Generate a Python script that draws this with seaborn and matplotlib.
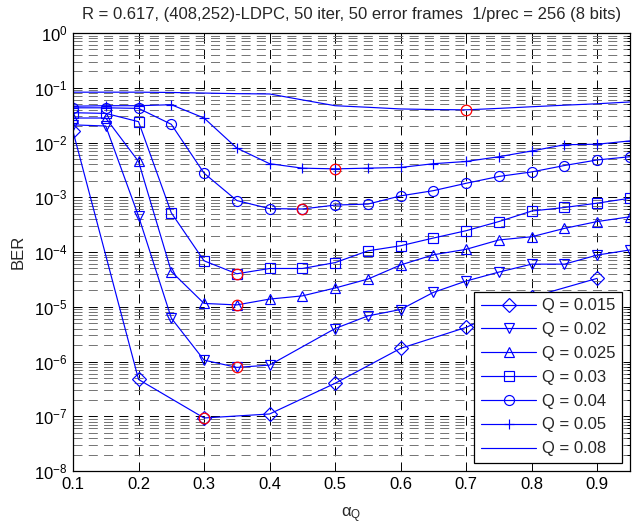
import numpy as np
import matplotlib
matplotlib.use("Agg")
import matplotlib.pyplot as plt
import seaborn as sns
from matplotlib.ticker import LogLocator, FixedLocator, NullLocator, LogFormatterSciNotation

# quantizer clipping factor alpha_Q (simulated grid points)
alpha_fine = [0.10, 0.15, 0.20, 0.25, 0.30, 0.35, 0.40, 0.45, 0.50,
              0.55, 0.60, 0.65, 0.70, 0.75, 0.80, 0.85, 0.90, 0.95]
alpha_coarse = [0.1, 0.2, 0.3, 0.4, 0.5, 0.6, 0.7, 0.8, 0.9]
alpha_q002 = [0.10, 0.15, 0.20, 0.25, 0.30, 0.35, 0.40, 0.50, 0.55,
              0.60, 0.65, 0.70, 0.75, 0.80, 0.85, 0.90, 0.95]

# bit error rates per quantization step Q
ber_q0015 = [1.6e-2, 4.7e-7, 9.3e-8, 1.1e-7, 4.0e-7, 1.74e-6, 4.2e-6, 1.5e-5, 3.3e-5]
ber_q002 = [2.1e-2, 2.0e-2, 4.5e-4, 6.2e-6, 1.06e-6, 7.8e-7, 8.6e-7, 4.0e-6, 6.8e-6,
            8.9e-6, 1.83e-5, 2.95e-5, 4.3e-5, 6.0e-5, 6.0e-5, 8.8e-5, 1.09e-4]
ber_q0025 = [2.8e-2, 2.8e-2, 4.5e-3, 4.4e-5, 1.15e-5, 1.08e-5, 1.38e-5, 1.58e-5, 2.2e-5,
             3.2e-5, 5.8e-5, 8.9e-5, 1.12e-4, 1.66e-4, 1.9e-4, 2.7e-4, 3.6e-4, 4.4e-4]
ber_q003 = [3.5e-2, 3.4e-2, 2.4e-2, 5.2e-4, 6.9e-5, 4.0e-5, 5.0e-5, 5.0e-5, 6.4e-5,
            1.05e-4, 1.3e-4, 1.8e-4, 2.45e-4, 3.6e-4, 5.6e-4, 6.5e-4, 7.8e-4, 9.6e-4]
ber_q004 = [4.3e-2, 4.3e-2, 4.2e-2, 2.15e-2, 2.75e-3, 8.7e-4, 6.2e-4, 6.1e-4, 7.2e-4,
            7.5e-4, 1.06e-3, 1.32e-3, 1.8e-3, 2.4e-3, 2.9e-3, 3.8e-3, 4.8e-3, 5.5e-3]
ber_q005 = [4.6e-2, 4.7e-2, 4.7e-2, 4.9e-2, 2.8e-2, 7.9e-3, 4.1e-3, 3.4e-3, 3.3e-3,
            3.4e-3, 3.5e-3, 4.1e-3, 4.5e-3, 5.5e-3, 7.0e-3, 9.1e-3, 9.3e-3, 1.07e-2]
ber_q008 = [8.3e-2, 8.3e-2, 8.3e-2, 8.2e-2, 8.0e-2, 7.8e-2, 7.7e-2, 6.0e-2, 4.7e-2,
            4.4e-2, 4.1e-2, 4.0e-2, 3.95e-2, 4.2e-2, 4.5e-2, 4.8e-2, 5.1e-2, 5.5e-2]

labels = ["Q = 0.015", "Q = 0.02", "Q = 0.025", "Q = 0.03", "Q = 0.04", "Q = 0.05", "Q = 0.08"]
x_ticks = [0.1, 0.2, 0.3, 0.4, 0.5, 0.6, 0.7, 0.8, 0.9]
x_tick_labels = ["0.1", "0.2", "0.3", "0.4", "0.5", "0.6", "0.7", "0.8", "0.9"]

series = [
    (alpha_coarse, ber_q0015, "D"),
    (alpha_q002, ber_q002, "v"),
    (alpha_fine, ber_q0025, "^"),
    (alpha_fine, ber_q003, "s"),
    (alpha_fine, ber_q004, "o"),
    (alpha_fine, ber_q005, "+"),
    (alpha_fine, ber_q008, None),
]

sns.set_style("white")
plt.rcParams["font.family"] = ["Liberation Sans", "DejaVu Sans"]
plt.rcParams["mathtext.fontset"] = "custom"
plt.rcParams["mathtext.rm"] = "Liberation Sans"
plt.rcParams["mathtext.it"] = "Liberation Sans:italic"
plt.rcParams["mathtext.bf"] = "Liberation Sans:bold"
plt.rcParams["lines.scale_dashes"] = False

fig = plt.figure(figsize=(6.33, 5.26), dpi=100)
fig.patch.set_facecolor("white")
ax = fig.add_axes([73 / 633, 1 - 471 / 526, (630 - 73) / 633, (471 - 33) / 526])

blue = "#0000FF"
handles = []
for (xs, ys, mk), lab in zip(series, labels):
    kw = dict(color=blue, lw=0.85, estimator=None, errorbar=None, sort=False,
              legend=False, ax=ax, label=lab)
    if mk is not None:
        kw.update(marker=mk, ms=7.2, mfc="none", mec=blue, mew=0.85)
    sns.lineplot(x=xs, y=ys, **kw)
    handles.append(ax.lines[-1])

# optimum alpha_Q of every curve, circled in red
red_x = [xs[int(np.argmin(ys))] for xs, ys, _ in series]
red_y = [min(ys) for _, ys, _ in series]
sns.lineplot(x=red_x, y=red_y, ax=ax, linestyle="none", marker="o", ms=7.6,
             mfc="none", mec="red", mew=0.9, estimator=None, errorbar=None,
             sort=False, legend=False)

ax.set_yscale("log")
ax.set_xlim(0.1, 0.95)
ax.set_ylim(1e-8, 1)
ax.xaxis.set_major_locator(FixedLocator(x_ticks))
ax.set_xticklabels(x_tick_labels)
ax.xaxis.set_minor_locator(NullLocator())
ax.yaxis.set_major_locator(LogLocator(base=10, numticks=20))
ax.yaxis.set_minor_locator(LogLocator(base=10, subs=np.arange(2, 10), numticks=20))
ax.yaxis.set_major_formatter(LogFormatterSciNotation())

dash = (0, (6.5, 4.5))
ax.set_axisbelow(True)
ax.grid(which="major", axis="both", color="black", linestyle=dash, linewidth=0.7)
ax.grid(which="minor", axis="y", color="0.45", linestyle=dash, linewidth=0.7)

ax.tick_params(which="both", direction="in", top=True, right=True,
               labelsize=12, colors="black", pad=4)
ax.tick_params(which="major", length=3.6, width=0.7)
ax.tick_params(which="minor", length=2.2, width=0.7)
for sp in ax.spines.values():
    sp.set_color("black")
    sp.set_linewidth(0.9)

ax.set_title("R = 0.617, (408,252)-LDPC, 50 iter, 50 error frames  1/prec = 256 (8 bits)",
             fontsize=12, pad=10)
ax.set_xlabel(r"$\mathregular{\alpha_Q}$", fontsize=12, labelpad=10)
ax.set_ylabel("BER", fontsize=12, labelpad=6)

leg = ax.legend(handles, labels, loc="lower right",
                bbox_to_anchor=((622 - 73) / 557, (471 - 463) / 438),
                borderaxespad=0, fancybox=False, framealpha=1, edgecolor="black",
                fontsize=12, handlelength=3.3, handletextpad=0.35,
                labelspacing=0.53, borderpad=0.4)
leg.get_frame().set_linewidth(0.9)

fig.savefig("out.png", dpi=100, facecolor="white")
